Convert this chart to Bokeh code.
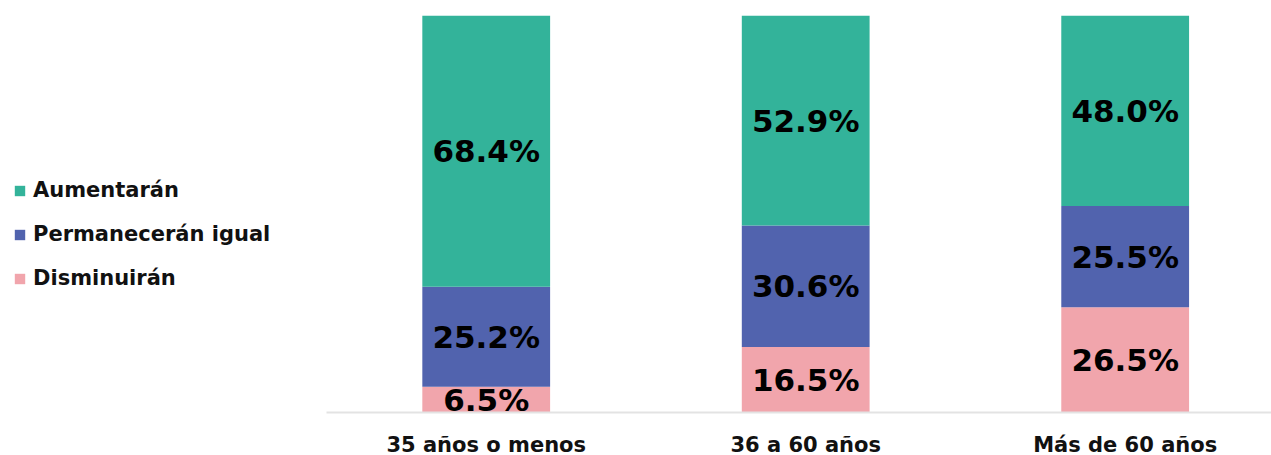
from bokeh.plotting import figure
from bokeh.models import ColumnDataSource, Legend, LegendItem, Range1d, FixedTicker
from bokeh.core.properties import value
from bokeh.embed import file_html
from bokeh.resources import INLINE
import numpy as np

categories = ["35 años o menos", "36 a 60 años", "Más de 60 años"]
aumentaran = [68.4, 52.9, 48.0]
permaneceran = [25.2, 30.6, 25.5]
disminuiran = [6.5, 16.5, 26.5]

series_names = ["Disminuirán", "Permanecerán igual", "Aumentarán"]
colors = ["#F1A5AC", "#5163AE", "#33B39A"]

x = list(range(len(categories)))
src = ColumnDataSource(dict(x=x, d=disminuiran, p=permaneceran, a=aumentaran))

FONT = "DejaVu Sans"

p = figure(frame_width=1263, frame_height=397, output_backend="svg", toolbar_location=None,
           x_range=Range1d(-1.4953, 2.458), y_range=Range1d(0, 100),
           min_border_left=8, min_border_right=0, min_border_top=15, min_border_bottom=0)
p.outline_line_color = None
p.grid.visible = False
p.yaxis.visible = False

rs = p.vbar_stack(["d", "p", "a"], x="x", width=0.4, source=src, color=colors, line_color=None)

d = np.array(disminuiran); pm = np.array(permaneceran); a = np.array(aumentaran)
lx, ly, lt = [], [], []
for i in range(len(categories)):
    for bottom, val in [(0, d[i]), (d[i], pm[i]), (d[i] + pm[i], a[i])]:
        lx.append(x[i]); ly.append(bottom + val / 2); lt.append(f"{val:.1f}%")
lsrc = ColumnDataSource(dict(x=lx, y=ly, t=lt))
p.text(x="x", y="y", text="t", source=lsrc, text_align="center", text_baseline="middle",
       text_font=value(FONT), text_font_style="bold", text_font_size="31px", text_color="#000000")

ax = p.xaxis[0]
ax.ticker = FixedTicker(ticks=x)
ax.bounds = (-0.5, 2.458)
ax.major_label_overrides = {i: c for i, c in zip(x, categories)}
ax.axis_line_color = "#E3E3E3"
ax.axis_line_width = 2
ax.major_tick_line_color = None
ax.minor_tick_line_color = None
ax.major_label_text_font = FONT
ax.major_label_text_font_style = "bold"
ax.major_label_text_font_size = "21px"
ax.major_label_text_color = "#111111"
ax.major_label_standoff = 14

items = [LegendItem(label=series_names[i], renderers=[rs[i]]) for i in [2, 1, 0]]
legend = Legend(items=items, location=(5, 122), orientation="vertical",
                label_text_font=FONT, label_text_font_style="bold", label_text_font_size="21px",
                label_text_color="#111111", glyph_width=13, glyph_height=13, label_standoff=7,
                spacing=20, padding=0, margin=0, border_line_color=None, background_fill_alpha=0)
p.add_layout(legend, "center")

open("out.html", "w").write(file_html(p, INLINE))
